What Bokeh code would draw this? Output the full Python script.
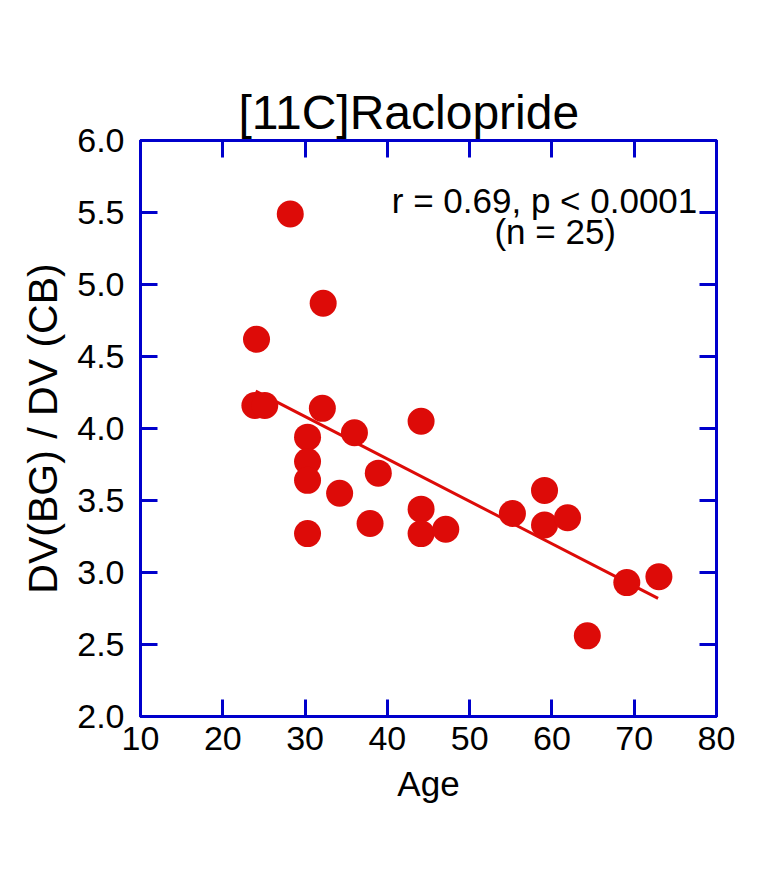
from bokeh.plotting import figure
from bokeh.models import LinearAxis, FixedTicker, NumeralTickFormatter, Label, Range1d
from bokeh.embed import file_html
from bokeh.resources import INLINE

# ---- data ----
age = [28.2, 24.1, 23.9, 25.1, 32.2, 32.1, 30.3, 30.3, 30.3, 30.3,
       36.0, 34.2, 38.9, 37.9, 44.1, 44.1, 44.1, 47.1, 55.2, 59.1,
       59.1, 61.9, 64.3, 69.1, 73.0]
dv_ratio = [5.49, 4.62, 4.16, 4.16, 4.87, 4.14, 3.94, 3.77, 3.64, 3.27,
            3.97, 3.55, 3.69, 3.34, 4.05, 3.44, 3.27, 3.30, 3.41, 3.57,
            3.33, 3.38, 2.56, 2.93, 2.97]
fit_age = [24.0, 72.9]
fit_ratio = [4.26, 2.82]

x_ticks = [10, 20, 30, 40, 50, 60, 70, 80]
y_ticks = [2.0, 2.5, 3.0, 3.5, 4.0, 4.5, 5.0, 5.5, 6.0]

title_text = "[11C]Raclopride"
stats_line1 = "r = 0.69, p < 0.0001"
stats_line2 = "(n = 25)"
x_label = "Age"
y_label = "DV(BG) / DV (CB)"

BLUE = "#0000cc"
RED = "#dd0b08"
FONT = "Liberation Sans"

p = figure(frame_width=576, frame_height=576,
           x_range=Range1d(10, 80), y_range=Range1d(2.0, 6.0),
           output_backend="svg", toolbar_location=None,
           min_border_left=140, min_border_top=140,
           min_border_right=39, min_border_bottom=100,
           title=title_text)

bottom_axis = p.below[0]
left_axis = p.left[0]

p.title.text_font = FONT
p.title.text_font_size = "48px"
p.title.text_font_style = "normal"
p.title.text_color = "black"
p.title.align = "left"
p.title.offset = 98
p.title.standoff = 4

p.grid.visible = False
p.outline_line_color = BLUE
p.outline_line_width = 3
p.background_fill_color = "white"
p.border_fill_color = "white"

# add top/right axes (ticks only)
top_axis = LinearAxis()
right_axis = LinearAxis()
p.add_layout(top_axis, "above")
p.add_layout(right_axis, "right")

for ax, ticks in ((bottom_axis, x_ticks), (left_axis, y_ticks),
                  (top_axis, x_ticks), (right_axis, y_ticks)):
    ax.ticker = FixedTicker(ticks=ticks)
    ax.axis_line_color = BLUE
    ax.axis_line_width = 3
    ax.major_tick_line_color = BLUE
    ax.major_tick_line_width = 3
    ax.major_tick_in = 17
    ax.major_tick_out = 0
    ax.minor_tick_line_color = None
    ax.minor_tick_in = 0
    ax.minor_tick_out = 0
    ax.major_label_text_font = FONT
    ax.major_label_text_color = "black"

bottom_axis.major_label_text_font_size = "34px"
bottom_axis.major_label_standoff = 10
bottom_axis.axis_label = x_label
bottom_axis.axis_label_text_font = FONT
bottom_axis.axis_label_text_font_size = "35px"
bottom_axis.axis_label_text_font_style = "normal"
bottom_axis.axis_label_text_color = "black"
bottom_axis.axis_label_standoff = 11

left_axis.major_label_text_font_size = "34px"
left_axis.major_label_standoff = 16
left_axis.formatter = NumeralTickFormatter(format="0.0")
left_axis.major_label_orientation = "horizontal"
left_axis.axis_label = y_label
left_axis.axis_label_text_font = FONT
left_axis.axis_label_text_font_size = "41px"
left_axis.axis_label_text_font_style = "normal"
left_axis.axis_label_text_color = "black"
left_axis.axis_label_standoff = 8

for ax, ticks in ((top_axis, x_ticks), (right_axis, y_ticks)):
    ax.major_label_text_font_size = "0px"
    ax.major_label_standoff = 0
    ax.major_label_overrides = {t: "" for t in ticks}

# regression line and points
p.line(fit_age, fit_ratio, line_color=RED, line_width=3)
p.scatter(age, dv_ratio, size=27, fill_color=RED, line_color=RED, line_width=0)

# statistics text
p.add_layout(Label(x=59.1, y=5.585, text=stats_line1, text_align="center",
                   text_baseline="alphabetic", text_font=FONT,
                   text_font_size="35px", text_color="black"))
p.add_layout(Label(x=60.4, y=5.37, text=stats_line2, text_align="center",
                   text_baseline="alphabetic", text_font=FONT,
                   text_font_size="35px", text_color="black"))

open("out.html", "w").write(file_html(p, INLINE))
